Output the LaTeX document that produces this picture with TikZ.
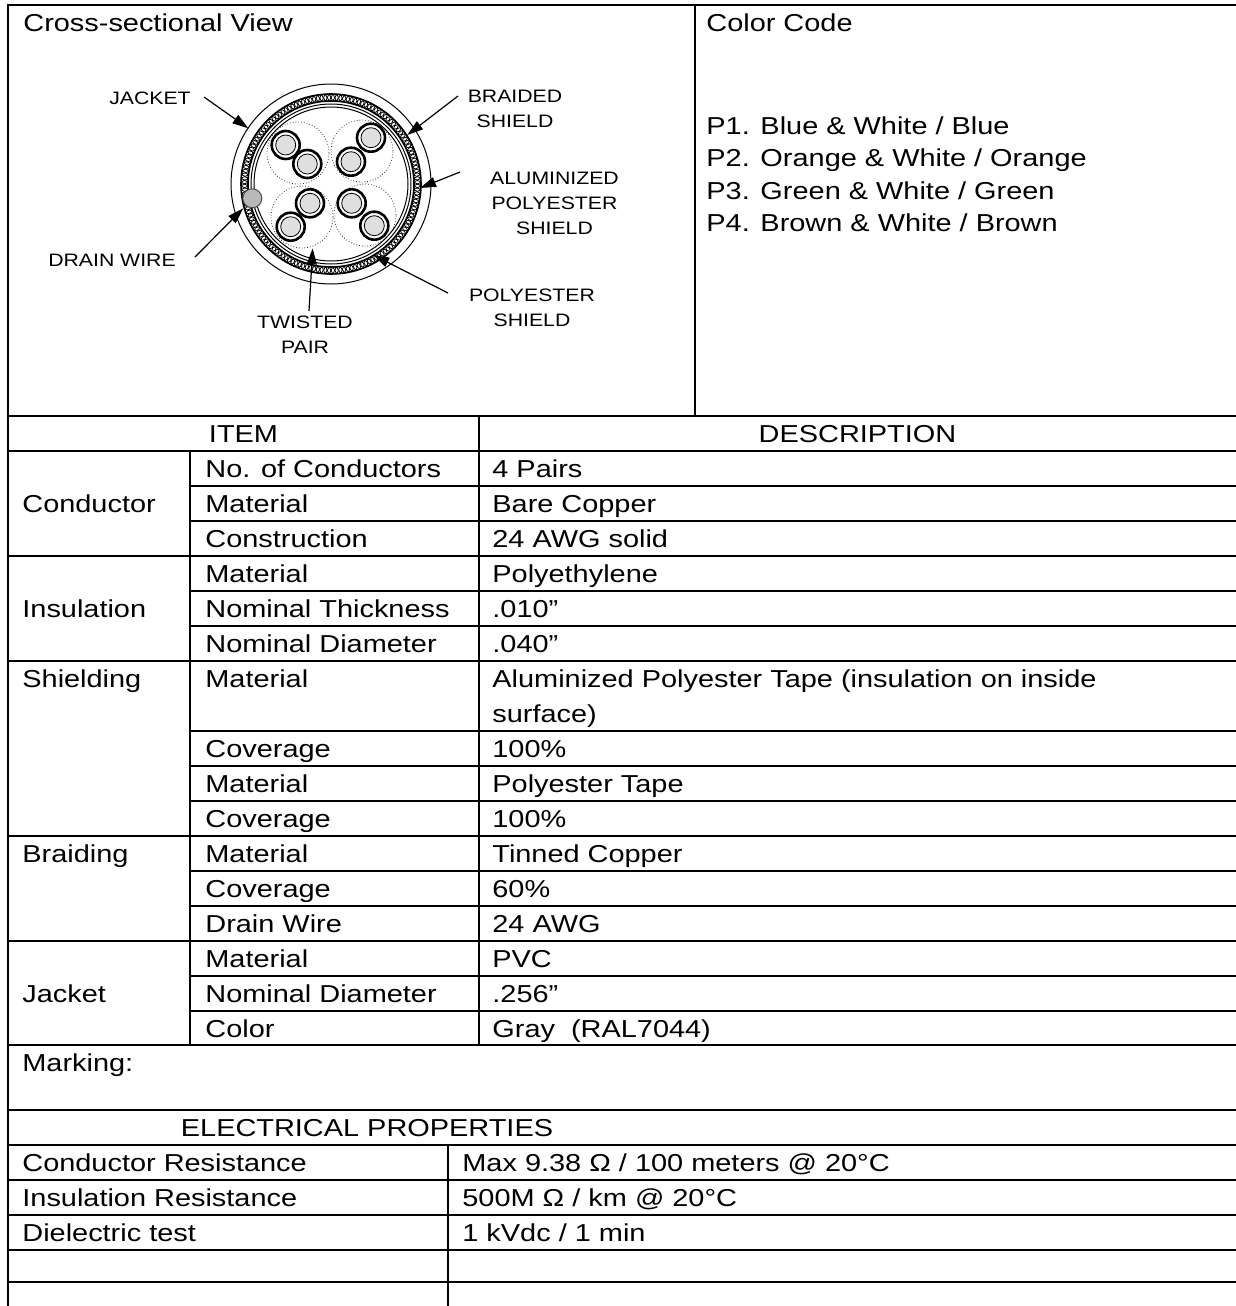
\documentclass[tikz,border=0pt]{standalone}
\usepackage{fontspec}
\setmainfont{Liberation Sans}[FakeStretch=1.18]
\usetikzlibrary{arrows.meta, positioning}

\tikzset{
	rule/.style={line width=1pt},
	cell/.style={anchor=base west, inner sep=0pt, font=\fontsize{12.25}{15}\selectfont},
	head/.style={cell, anchor=base},
	tag/.style={align=center, inner sep=0pt, font=\fontsize{9}{12.5}\selectfont},
	pointer/.style={-{Triangle[length=8pt, width=5pt]}, line width=0.6pt},
	wire/.style={line width=1.3pt, fill=white},
	core/.style={line width=0.4pt, fill=gray!25},
	pair/.style={densely dotted, line width=0.4pt, gray!40!black},
}

\begin{document}
\begin{tikzpicture}[x=0.5pt, y=-0.5pt]
	\useasboundingbox (0,0) rectangle (1236,1306);

	% frame and table rules
	\draw[rule] (8,1310) -- (8,5) -- (1240,5);
	\draw[rule] (695,5) -- (695,416);
	\foreach \y in {416,451,556,661,836,941,1045,1110,1145,1180,1215,1250,1282}
		\draw[rule] (8,\y) -- (1240,\y);
	\foreach \y in {486,521,591,626,731,766,801,871,906,976,1011}
		\draw[rule] (190,\y) -- (1240,\y);
	\draw[rule] (190,451) -- (190,1045);
	\draw[rule] (479,416) -- (479,1045);
	\draw[rule] (448,1145) -- (448,1310);

	% cable cross-section
	\coordinate (c) at (331,184);
	\draw[line width=0.5pt] (c) circle[radius=50pt];
	\draw[line width=0.8pt] (c) circle[radius=45pt];
	\draw[line width=0.8pt] (c) circle[radius=41.5pt];
	\foreach \a in {0,2.5,...,357.5}
		\draw[line width=0.4pt] (c) ++(\a:43.25pt) circle[radius=1.8pt];
	\draw[line width=0.5pt] (c) circle[radius=40pt];
	\draw[line width=0.5pt] (c) circle[radius=38.5pt];

	\draw[pair] (298,153) circle[radius=15.5pt];
	\draw[pair] (362,151) circle[radius=15.5pt];
	\draw[pair] (302,217) circle[radius=15.5pt];
	\draw[pair] (365,215) circle[radius=15.5pt];

	\foreach \p in {{285.7,145},{307.3,164},{371,137.7},{351,161.7},{310,203.3},{290.7,226.7},{351.7,203.3},{374.3,225.7}}{
		\draw[wire] (\p) circle[radius=7pt];
		\draw[core] (\p) circle[radius=5pt];
	}
	\draw[line width=0.5pt, draw=gray!60!black, fill=gray!55] (252.3,198.3) circle[radius=4.75pt];

	% callouts
	\node[tag] (jacket)   at (150,98)    {JACKET};
	\node[tag] (braided)  at (515,109)   {BRAIDED\\SHIELD};
	\node[tag] (alushld)  at (554.5,203) {ALUMINIZED\\POLYESTER\\SHIELD};
	\node[tag] (drain)    at (112,260)   {DRAIN WIRE};
	\node[tag] (polyshld) at (532,308)   {POLYESTER\\SHIELD};
	\node[tag] (twisted)  at (305,335)   {TWISTED\\PAIR};

	\coordinate (jacket-tip)   at (248.3,128.3);
	\coordinate (braided-tip)  at (407.3,135);
	\coordinate (alushld-tip)  at (420,188);
	\coordinate (drain-tip)    at (243.3,208.3);
	\coordinate (polyshld-tip) at (373.3,255);
	\coordinate (twisted-tip)  at (312.7,248.3);

	\draw[pointer] (204,97)  -- (jacket-tip);
	\draw[pointer] (458,96)  -- (braided-tip);
	\draw[pointer] (460,172) -- (alushld-tip);
	\draw[pointer] (195,257) -- (drain-tip);
	\draw[pointer] (448,293) -- (polyshld-tip);
	\draw[pointer] (309,311) -- (twisted-tip);

	% headings
	\node[cell] (view) at (23,32)  {Cross-sectional View};
	\node[cell] (code) at (706,32) {Color Code};
	\node[cell] (p1) at (706,134) {P1. Blue \& White / Blue};
	\node[cell] (p2) at ([yshift=-16.3pt]p1.base west) {P2. Orange \& White / Orange};
	\node[cell] (p3) at ([yshift=-16.3pt]p2.base west) {P3. Green \& White / Green};
	\node[cell] (p4) at ([yshift=-16.3pt]p3.base west) {P4. Brown \& White / Brown};

	% table
	\node[head] (item) at (243.5,442) {ITEM};
	\node[head] (desc) at (857.5,442) {DESCRIPTION};

	\node[cell] (cond)   at (22,512)  {Conductor};
	\node[cell] (ncond)  at (205,477) {No. of Conductors};
	\node[cell] (pairs)  at (492,477) {4 Pairs};
	\node[cell] (cmat)   at (205,512) {Material};
	\node[cell] (copper) at (492,512) {Bare Copper};
	\node[cell] (constr) at (205,547) {Construction};
	\node[cell] (awg)    at (492,547) {24 AWG solid};

	\node[cell] (insul)  at (22,617)  {Insulation};
	\node[cell] (imat)   at (205,582) {Material};
	\node[cell] (poly)   at (492,582) {Polyethylene};
	\node[cell] (ithick) at (205,617) {Nominal Thickness};
	\node[cell] (thick)  at (492,617) {.010”};
	\node[cell] (idiam)  at (205,652) {Nominal Diameter};
	\node[cell] (diam)   at (492,652) {.040”};

	\node[cell] (shield)  at (22,687)  {Shielding};
	\node[cell] (smat)    at (205,687) {Material};
	\node[cell] (alu)     at (492,687) {Aluminized Polyester Tape (insulation on inside};
	\node[cell] (surf)    at (492,722) {surface)};
	\node[cell] (scov)    at (205,757) {Coverage};
	\node[cell] (alucov)  at (492,757) {100\%};
	\node[cell] (smat2)   at (205,792) {Material};
	\node[cell] (tape)    at (492,792) {Polyester Tape};
	\node[cell] (scov2)   at (205,827) {Coverage};
	\node[cell] (tapecov) at (492,827) {100\%};

	\node[cell] (braid)    at (22,862)  {Braiding};
	\node[cell] (bmat)     at (205,862) {Material};
	\node[cell] (tinned)   at (492,862) {Tinned Copper};
	\node[cell] (bcov)     at (205,897) {Coverage};
	\node[cell] (braidcov) at (492,897) {60\%};
	\node[cell] (bdrain)   at (205,932) {Drain Wire};
	\node[cell] (drainawg) at (492,932) {24 AWG};

	\node[cell] (jack)  at (22,1002)  {Jacket};
	\node[cell] (jmat)  at (205,967)  {Material};
	\node[cell] (pvc)   at (492,967)  {PVC};
	\node[cell] (jdiam) at (205,1002) {Nominal Diameter};
	\node[cell] (odiam) at (492,1002) {.256”};
	\node[cell] (jcol)  at (205,1037) {Color};
	\node[cell] (gray)  at (492,1037) {Gray\ \ (RAL7044)};

	\node[cell] (mark)  at (22,1071)  {Marking:};
	\node[head] (elec)  at (367,1136) {ELECTRICAL PROPERTIES};
	\node[cell] (cres)  at (22,1171)  {Conductor Resistance};
	\node[cell] (cresv) at (462,1171) {Max 9.38 Ω / 100 meters @ 20°C};
	\node[cell] (ires)  at (22,1206)  {Insulation Resistance};
	\node[cell] (iresv) at (462,1206) {500M Ω / km @ 20°C};
	\node[cell] (diel)  at (22,1241)  {Dielectric test};
	\node[cell] (dielv) at (462,1241) {1 kVdc / 1 min};
\end{tikzpicture}
\end{document}
